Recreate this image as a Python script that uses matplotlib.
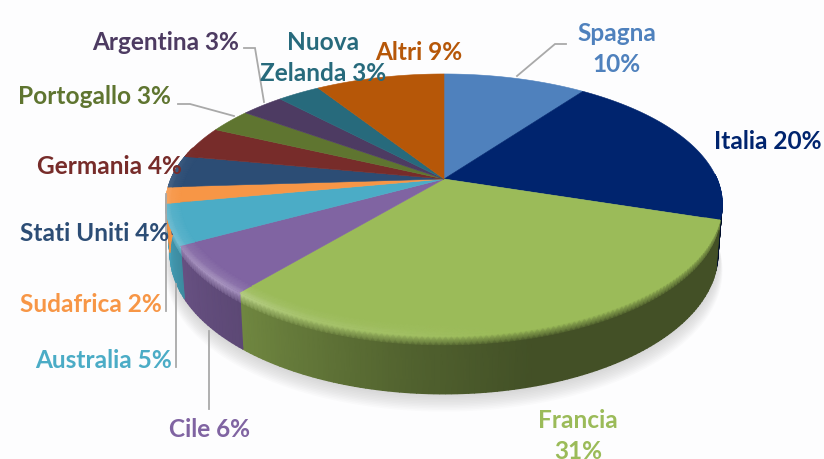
import matplotlib
matplotlib.use("Agg")
import matplotlib.pyplot as plt
import numpy as np
from matplotlib.colors import to_rgb

paesi = ["Spagna", "Italia", "Francia", "Cile", "Australia", "Sudafrica",
         "Stati Uniti", "Germania", "Portogallo", "Argentina", "Nuova Zelanda", "Altri"]
quote = [10, 20, 31, 6, 5, 2, 4, 4, 3, 3, 3, 9]
colori = ["#4f81bd", "#00246e", "#9bbb59", "#8064a2", "#4bacc6", "#f79646",
          "#2c4d75", "#772c2a", "#5f7530", "#4d3b62", "#276a7c", "#b65708"]
etichette = ["Spagna\n10%", "Italia 20%", "Francia\n31%", "Cile 6%", "Australia 5%", "Sudafrica 2%",
             "Stati Uniti 4%", "Germania 4%", "Portogallo 3%", "Argentina 3%", "Nuova\nZelanda 3%", "Altri 9%"]
pos_testo = [(617, 49), (768, 142), (578, 436), (210, 430), (104, 361), (91, 305),
             (95, 234), (110, 167), (95, 97), (166, 42), (323, 58), (419, 52)]
linee = [[(517, 77), (555, 45), (566, 45)],
         [(209, 332), (209, 410)],
         [(176, 285), (176, 368)],
         [(166, 195), (166, 312)],
         [(234, 117), (190, 105), (178, 105)],
         [(264, 103), (255, 49), (244, 49)]]

CX, CY = 444, 180
A, B, K = 273, 125.2, 0.192
DEPTH = 60


def proietta(theta, r=1.0):
    # angolo in gradi, orario dall'alto -> punto sulla faccia in prospettiva
    t = np.radians(theta)
    u = r * np.sin(t)
    v = -r * np.cos(t)
    d = 1 - K * v
    return CX + A * u / d, CY + B * v / d


def bordo(theta, f):
    # f = 0 bordo superiore, f = 1 bordo inferiore della parete
    x, y = proietta(theta)
    prof = DEPTH * (0.78 + 0.22 * np.clip(-np.cos(np.radians(theta)), 0, 1))
    return CX + (x - CX) * (1 - 0.015 * f), y + prof * f


def ombra_parete(theta):
    return np.interp(theta, [90, 110, 165, 185, 219, 240, 265, 300],
                     [0.30, 0.43, 0.43, 0.52, 0.72, 0.80, 1.0, 1.0])


def luce(theta):
    return np.interp(theta, [170, 205, 225, 250, 275, 285], [0.0, 0.12, 0.30, 0.22, 0.10, 0.0])


fig = plt.figure(figsize=(8.24, 4.6), dpi=100, facecolor="#fdfdfe")
ax = fig.add_axes([0, 0, 1, 1])
plt.rcParams["font.family"] = ["Lato", "DejaVu Sans"]

# ombra morbida sotto la torta
giro = np.linspace(90, 290, 200)
for i in range(12):
    ox, oy = bordo(giro, 1)
    ax.fill(CX + (ox - CX) * (1 + 0.0015 * i), oy + 1.6 * i, color="#8a8a8a", alpha=0.03, lw=0, zorder=1)

cum = np.concatenate([[0], np.cumsum(quote)]) * 360.0 / sum(quote)

# facce superiori
for i in range(len(quote)):
    th = np.linspace(cum[i], cum[i + 1], max(int(cum[i + 1] - cum[i]) * 2, 4))
    x, y = proietta(th)
    ax.fill(np.r_[CX, x], np.r_[CY, y], facecolor=colori[i], edgecolor=colori[i], lw=0.4, zorder=3)

# parete (sotto le facce) e anello di smusso (sopra le facce)
for i in range(len(quote)):
    base = np.array(to_rgb(colori[i]))
    a0, a1 = max(cum[i], 88), min(cum[i + 1], 285)
    if a1 <= a0:
        continue
    th = np.linspace(a0, a1, int(a1 - a0) + 2)
    muro = base[None, :] * ombra_parete(th)[:, None]
    chiaro = np.clip(base[None, :] + (1 - base[None, :]) * luce(th)[:, None], 0, 1)

    anello = [proietta(th, r) for r in (0.95, 0.985, 1.0)]
    pesi = [0.0, 0.45, 1.0]
    C = np.array([base[None, :] * (1 - w) + chiaro * w for w in pesi])
    ax.pcolormesh(np.array([p[0] for p in anello]), np.array([p[1] for p in anello]),
                  np.clip(C, 0, 1), shading="gouraud", zorder=4)

    parete = [bordo(th, f) for f in (0.0, 0.05, 0.2, 1.0)]
    pesi = [0.0, 0.0, 1.0, 1.0]
    C = np.array([chiaro * (1 - w) + muro * w for w in pesi])
    ax.pcolormesh(np.array([p[0] for p in parete]), np.array([p[1] for p in parete]),
                  np.clip(C, 0, 1), shading="gouraud", zorder=2)

for ln in linee:
    ax.plot([p[0] for p in ln], [p[1] for p in ln], color="#a9a9a9", lw=1.3, zorder=5,
            solid_joinstyle="miter")

for testo, col, (tx, ty) in zip(etichette, colori, pos_testo):
    ax.text(tx, ty, testo, color=col, fontsize=17.6, fontweight="bold", ha="center", va="center",
            linespacing=1.45, zorder=6, clip_on=False)

ax.set_xlim(0, 824)
ax.set_ylim(460, 0)
ax.axis("off")
fig.savefig("out.png", dpi=100, facecolor=fig.get_facecolor())
